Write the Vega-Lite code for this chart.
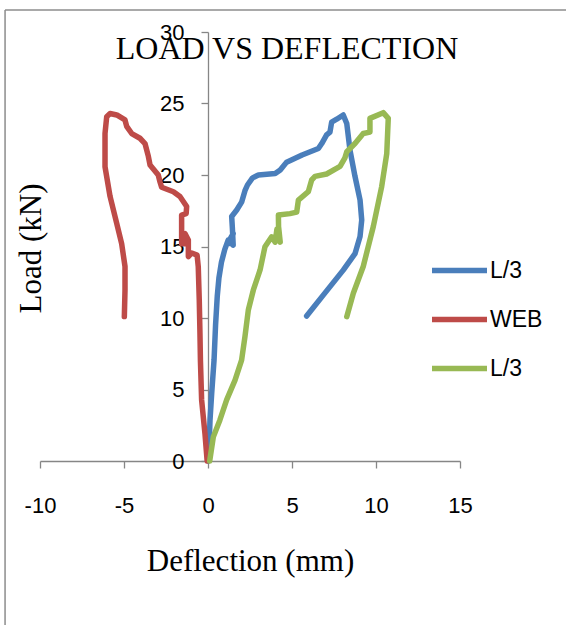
{
  "$schema": "https://vega.github.io/schema/vega-lite/v6.json",
  "autosize": {"type": "none"},
  "padding": {"left": 40, "top": 32, "right": 106, "bottom": 164},
  "width": 420,
  "height": 429,
  "background": "#ffffff",
  "config": {"view": {"stroke": null}},
  "title": {"text": "LOAD VS DEFLECTION", "font": "Liberation Serif", "fontSize": 32, "fontWeight": "normal", "color": "#000000", "anchor": "middle", "dx": 37, "baseline": "alphabetic", "offset": 0, "dy": 82},
  "datasets": {
    "curves": [
      {"series": "L/3 (1)", "i": 0, "x": 0, "y": 0},
      {"series": "L/3 (1)", "i": 1, "x": 0.06, "y": 0.77},
      {"series": "L/3 (1)", "i": 2, "x": 0.12, "y": 2.87},
      {"series": "L/3 (1)", "i": 3, "x": 0.22, "y": 4.73},
      {"series": "L/3 (1)", "i": 4, "x": 0.36, "y": 7.06},
      {"series": "L/3 (1)", "i": 5, "x": 0.45, "y": 9.5},
      {"series": "L/3 (1)", "i": 6, "x": 0.55, "y": 11.5},
      {"series": "L/3 (1)", "i": 7, "x": 0.65, "y": 12.8},
      {"series": "L/3 (1)", "i": 8, "x": 0.8, "y": 13.9},
      {"series": "L/3 (1)", "i": 9, "x": 1.0, "y": 14.8},
      {"series": "L/3 (1)", "i": 10, "x": 1.2, "y": 15.45},
      {"series": "L/3 (1)", "i": 11, "x": 1.35, "y": 15.2},
      {"series": "L/3 (1)", "i": 12, "x": 1.5, "y": 15.9},
      {"series": "L/3 (1)", "i": 13, "x": 1.35, "y": 15.6},
      {"series": "L/3 (1)", "i": 14, "x": 1.5, "y": 15.1},
      {"series": "L/3 (1)", "i": 15, "x": 1.45, "y": 16.3},
      {"series": "L/3 (1)", "i": 16, "x": 1.41, "y": 17.1},
      {"series": "L/3 (1)", "i": 17, "x": 1.71, "y": 17.55},
      {"series": "L/3 (1)", "i": 18, "x": 2.0, "y": 18.1},
      {"series": "L/3 (1)", "i": 19, "x": 2.2, "y": 18.9},
      {"series": "L/3 (1)", "i": 20, "x": 2.35, "y": 19.3},
      {"series": "L/3 (1)", "i": 21, "x": 2.65, "y": 19.8},
      {"series": "L/3 (1)", "i": 22, "x": 3.0, "y": 20.0},
      {"series": "L/3 (1)", "i": 23, "x": 4.0, "y": 20.1},
      {"series": "L/3 (1)", "i": 24, "x": 4.3, "y": 20.35},
      {"series": "L/3 (1)", "i": 25, "x": 4.68, "y": 20.9},
      {"series": "L/3 (1)", "i": 26, "x": 5.6, "y": 21.4},
      {"series": "L/3 (1)", "i": 27, "x": 6.57, "y": 21.85},
      {"series": "L/3 (1)", "i": 28, "x": 6.77, "y": 22.2},
      {"series": "L/3 (1)", "i": 29, "x": 7.06, "y": 22.8},
      {"series": "L/3 (1)", "i": 30, "x": 7.26, "y": 23.0},
      {"series": "L/3 (1)", "i": 31, "x": 7.36, "y": 23.7},
      {"series": "L/3 (1)", "i": 32, "x": 7.66, "y": 23.9},
      {"series": "L/3 (1)", "i": 33, "x": 8.05, "y": 24.2},
      {"series": "L/3 (1)", "i": 34, "x": 8.26, "y": 23.6},
      {"series": "L/3 (1)", "i": 35, "x": 8.45, "y": 21.75},
      {"series": "L/3 (1)", "i": 36, "x": 8.75, "y": 19.9},
      {"series": "L/3 (1)", "i": 37, "x": 9.05, "y": 18.25},
      {"series": "L/3 (1)", "i": 38, "x": 9.15, "y": 16.85},
      {"series": "L/3 (1)", "i": 39, "x": 9.05, "y": 15.7},
      {"series": "L/3 (1)", "i": 40, "x": 8.75, "y": 14.5},
      {"series": "L/3 (1)", "i": 41, "x": 8.05, "y": 13.35},
      {"series": "L/3 (1)", "i": 42, "x": 6.86, "y": 11.6},
      {"series": "L/3 (1)", "i": 43, "x": 5.87, "y": 10.14},
      {"series": "WEB", "i": 0, "x": -0.05, "y": 0},
      {"series": "WEB", "i": 1, "x": -0.18, "y": 1.9},
      {"series": "WEB", "i": 2, "x": -0.38, "y": 4.27},
      {"series": "WEB", "i": 3, "x": -0.45, "y": 7.0},
      {"series": "WEB", "i": 4, "x": -0.48, "y": 9.0},
      {"series": "WEB", "i": 5, "x": -0.52, "y": 11.26},
      {"series": "WEB", "i": 6, "x": -0.58, "y": 13.59},
      {"series": "WEB", "i": 7, "x": -0.65, "y": 14.4},
      {"series": "WEB", "i": 8, "x": -0.97, "y": 14.55},
      {"series": "WEB", "i": 9, "x": -1.17, "y": 14.3},
      {"series": "WEB", "i": 10, "x": -1.17, "y": 15.45},
      {"series": "WEB", "i": 11, "x": -1.37, "y": 15.9},
      {"series": "WEB", "i": 12, "x": -1.37, "y": 15.2},
      {"series": "WEB", "i": 13, "x": -1.57, "y": 15.2},
      {"series": "WEB", "i": 14, "x": -1.57, "y": 17.2},
      {"series": "WEB", "i": 15, "x": -1.3, "y": 17.3},
      {"series": "WEB", "i": 16, "x": -1.27, "y": 17.8},
      {"series": "WEB", "i": 17, "x": -1.67, "y": 18.5},
      {"series": "WEB", "i": 18, "x": -2.06, "y": 18.83},
      {"series": "WEB", "i": 19, "x": -2.76, "y": 19.14},
      {"series": "WEB", "i": 20, "x": -2.86, "y": 19.53},
      {"series": "WEB", "i": 21, "x": -2.96, "y": 20.0},
      {"series": "WEB", "i": 22, "x": -3.45, "y": 20.7},
      {"series": "WEB", "i": 23, "x": -3.55, "y": 21.3},
      {"series": "WEB", "i": 24, "x": -3.75, "y": 22.2},
      {"series": "WEB", "i": 25, "x": -4.05, "y": 22.57},
      {"series": "WEB", "i": 26, "x": -4.54, "y": 22.9},
      {"series": "WEB", "i": 27, "x": -4.84, "y": 23.4},
      {"series": "WEB", "i": 28, "x": -4.94, "y": 23.85},
      {"series": "WEB", "i": 29, "x": -5.43, "y": 24.2},
      {"series": "WEB", "i": 30, "x": -5.83, "y": 24.3},
      {"series": "WEB", "i": 31, "x": -6.03, "y": 24.08},
      {"series": "WEB", "i": 32, "x": -6.13, "y": 22.9},
      {"series": "WEB", "i": 33, "x": -6.13, "y": 20.58},
      {"series": "WEB", "i": 34, "x": -5.83, "y": 18.5},
      {"series": "WEB", "i": 35, "x": -5.43, "y": 16.6},
      {"series": "WEB", "i": 36, "x": -5.14, "y": 15.2},
      {"series": "WEB", "i": 37, "x": -4.94, "y": 13.6},
      {"series": "WEB", "i": 38, "x": -4.94, "y": 11.96},
      {"series": "WEB", "i": 39, "x": -4.98, "y": 10.1},
      {"series": "L/3 (2)", "i": 0, "x": 0.1, "y": 0},
      {"series": "L/3 (2)", "i": 1, "x": 0.32, "y": 1.7},
      {"series": "L/3 (2)", "i": 2, "x": 0.71, "y": 2.87},
      {"series": "L/3 (2)", "i": 3, "x": 1.11, "y": 4.27},
      {"series": "L/3 (2)", "i": 4, "x": 1.61, "y": 5.66},
      {"series": "L/3 (2)", "i": 5, "x": 2.0, "y": 7.06},
      {"series": "L/3 (2)", "i": 6, "x": 2.2, "y": 8.7},
      {"series": "L/3 (2)", "i": 7, "x": 2.4, "y": 10.56},
      {"series": "L/3 (2)", "i": 8, "x": 2.7, "y": 11.96},
      {"series": "L/3 (2)", "i": 9, "x": 3.1, "y": 13.36},
      {"series": "L/3 (2)", "i": 10, "x": 3.39, "y": 14.98},
      {"series": "L/3 (2)", "i": 11, "x": 3.79, "y": 15.68},
      {"series": "L/3 (2)", "i": 12, "x": 4.0, "y": 15.3},
      {"series": "L/3 (2)", "i": 13, "x": 4.1, "y": 16.2},
      {"series": "L/3 (2)", "i": 14, "x": 4.3, "y": 15.3},
      {"series": "L/3 (2)", "i": 15, "x": 4.2, "y": 16.4},
      {"series": "L/3 (2)", "i": 16, "x": 4.19, "y": 17.2},
      {"series": "L/3 (2)", "i": 17, "x": 4.88, "y": 17.3},
      {"series": "L/3 (2)", "i": 18, "x": 5.28, "y": 17.4},
      {"series": "L/3 (2)", "i": 19, "x": 5.38, "y": 18.25},
      {"series": "L/3 (2)", "i": 20, "x": 5.97, "y": 18.83},
      {"series": "L/3 (2)", "i": 21, "x": 6.17, "y": 19.65},
      {"series": "L/3 (2)", "i": 22, "x": 6.37, "y": 19.9},
      {"series": "L/3 (2)", "i": 23, "x": 7.06, "y": 20.07},
      {"series": "L/3 (2)", "i": 24, "x": 7.86, "y": 20.6},
      {"series": "L/3 (2)", "i": 25, "x": 8.15, "y": 21.2},
      {"series": "L/3 (2)", "i": 26, "x": 8.26, "y": 21.63},
      {"series": "L/3 (2)", "i": 27, "x": 8.75, "y": 22.2},
      {"series": "L/3 (2)", "i": 28, "x": 9.24, "y": 22.9},
      {"series": "L/3 (2)", "i": 29, "x": 9.64, "y": 23.0},
      {"series": "L/3 (2)", "i": 30, "x": 9.64, "y": 23.96},
      {"series": "L/3 (2)", "i": 31, "x": 10.43, "y": 24.36},
      {"series": "L/3 (2)", "i": 32, "x": 10.73, "y": 23.96},
      {"series": "L/3 (2)", "i": 33, "x": 10.64, "y": 21.5},
      {"series": "L/3 (2)", "i": 34, "x": 10.34, "y": 19.2},
      {"series": "L/3 (2)", "i": 35, "x": 9.84, "y": 16.4},
      {"series": "L/3 (2)", "i": 36, "x": 9.24, "y": 13.6},
      {"series": "L/3 (2)", "i": 37, "x": 8.65, "y": 11.73},
      {"series": "L/3 (2)", "i": 38, "x": 8.26, "y": 10.09}
    ]
  },
  "layer": [
    {
      "data": {"values": [{}]},
      "mark": {"type": "rule", "color": "#8c8c8c", "strokeWidth": 1.5},
      "encoding": {
        "x": {"datum": -12.08, "type": "quantitative", "scale": {"domain": [-10, 15]}},
        "y": {"datum": 31.54, "type": "quantitative", "scale": {"domain": [0, 30]}},
        "y2": {"datum": -13}
      }
    },
    {
      "data": {"values": [{}]},
      "mark": {"type": "rule", "color": "#8c8c8c", "strokeWidth": 1.5},
      "encoding": {
        "x": {"datum": -12.08, "type": "quantitative"},
        "x2": {"datum": 22},
        "y": {"datum": 31.54, "type": "quantitative"}
      }
    },
    {
      "data": {"name": "curves"},
      "mark": {"type": "line", "strokeWidth": 5.5, "strokeCap": "round", "strokeJoin": "round", "clip": false},
      "encoding": {
        "x": {
          "field": "x", "type": "quantitative",
          "scale": {"domain": [-10, 15], "nice": false, "zero": false},
          "axis": {
            "values": [-10, -5, 0, 5, 10, 15], "grid": false,
            "domainColor": "#868686", "tickColor": "#868686", "domainWidth": 1.3, "tickWidth": 1.3, "tickSize": 7,
            "labelFont": "Liberation Sans", "labelFontSize": 22, "labelColor": "#000000", "labelPadding": 44,
            "labelBaseline": "alphabetic", "labelFlush": false, "labelOverlap": false,
            "labelExpr": "datum.value < 0 ? '-' + abs(datum.value) : '' + datum.value",
            "title": "Deflection (mm)", "titleFont": "Liberation Serif", "titleFontSize": 31, "titleFontWeight": "normal",
            "titleColor": "#000000", "titleY": 109, "titleBaseline": "alphabetic"
          }
        },
        "y": {
          "field": "y", "type": "quantitative",
          "scale": {"domain": [0, 30], "nice": false, "zero": false},
          "axis": {
            "values": [0, 5, 10, 15, 20, 25, 30], "grid": false, "offset": -168,
            "domainColor": "#868686", "tickColor": "#868686", "domainWidth": 1.3, "tickWidth": 1.3, "tickSize": 7,
            "labelFont": "Liberation Sans", "labelFontSize": 22, "labelColor": "#000000", "labelPadding": 17,
            "labelBaseline": "middle", "labelFlush": false, "labelOverlap": false,
            "title": "Load (kN)", "titleFont": "Liberation Serif", "titleFontSize": 31, "titleFontWeight": "normal",
            "titleColor": "#000000", "titleX": -168, "titleY": 216, "titleAngle": -90, "titleAlign": "center", "titleBaseline": "alphabetic"
          }
        },
        "order": {"field": "i", "type": "quantitative"},
        "color": {
          "field": "series", "type": "nominal",
          "scale": {"domain": ["L/3 (1)", "WEB", "L/3 (2)"], "range": ["#4A7EBB", "#BE4B48", "#98B954"]},
          "legend": {
            "title": null, "orient": "none", "legendX": 389, "legendY": 208,
            "symbolType": "stroke", "symbolSize": 3025, "symbolStrokeWidth": 5.5,
            "labelFont": "Liberation Sans", "labelFontSize": 23, "labelColor": "#000000", "labelOffset": 0,
            "rowPadding": 6,
            "labelExpr": "datum.label == 'WEB' ? 'WEB' : 'L/3'"
          }
        }
      }
    }
  ]
}
